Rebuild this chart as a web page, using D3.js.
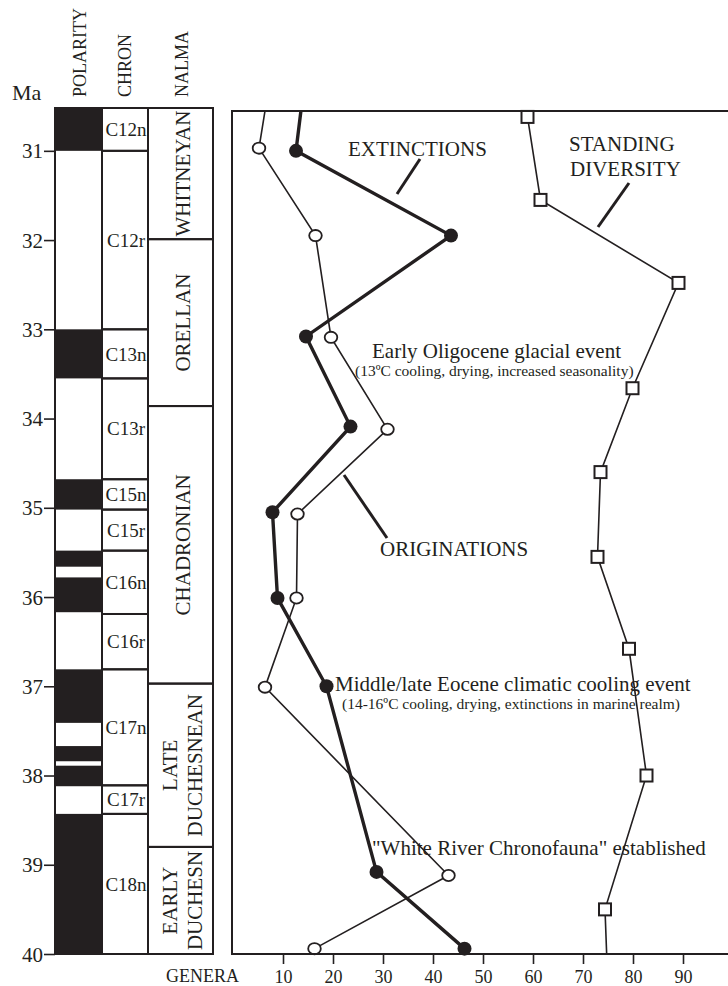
<!DOCTYPE html>
<html>
<head>
<meta charset="utf-8">
<script src="https://cdn.jsdelivr.net/npm/d3@7"></script>
<style>
  html, body { margin: 0; padding: 0; background: #ffffff; }
  svg { display: block; }
  text { font-family: "Liberation Serif", "Times New Roman", serif; fill: #231f20; }
</style>
</head>
<body>
<svg id="chart" width="728" height="986"></svg>
<script>
// ---- Time scale (Ma) ----------------------------------------------------
const maTicks = [31, 32, 33, 34, 35, 36, 37, 38, 39, 40];

// Normal-polarity (black) intervals of the magnetic column, [young, old] in Ma
const polarityNormal = [
  [30.52, 31.0], [33.0, 33.55], [34.68, 35.02], [35.48, 35.66], [35.78, 36.17],
  [36.81, 37.41], [37.67, 37.84], [37.89, 38.12], [38.43, 40.0]
];

// Chrons and their boundaries (Ma)
const chronNames  = ["C12n", "C12r", "C13n", "C13r", "C15n", "C15r", "C16n", "C16r", "C17n", "C17r", "C18n"];
const chronBounds = [30.52, 31.0, 33.0, 33.55, 34.68, 35.02, 35.48, 36.19, 36.81, 38.11, 38.43, 40.0];

// North American Land Mammal Ages and their boundaries (Ma)
const nalmaNames  = [["WHITNEYAN"], ["ORELLAN"], ["CHADRONIAN"], ["LATE", "DUCHESNEAN"], ["EARLY", "DUCHESN"]];
const nalmaBounds = [30.52, 31.99, 33.86, 36.97, 38.8, 40.0];

// ---- Genera counts ---------------------------------------------------------
const generaTicks = [10, 20, 30, 40, 50, 60, 70, 80, 90];

// First/last entries lie just outside the window: the series continue beyond it
const originationsAge   = [30.5, 30.97, 31.95, 33.09, 34.12, 35.07, 36.01, 37.01, 39.12, 39.94];
const originationsValue = [6.55, 5.2, 16.5, 19.6, 30.9, 12.9, 12.7, 6.4, 43.1, 16.3];

const extinctionsAge    = [30.5, 31.0, 31.95, 33.08, 34.09, 35.05, 36.01, 37.0, 39.08, 39.94];
const extinctionsValue  = [13.7, 12.6, 43.6, 14.6, 23.5, 7.9, 8.9, 18.7, 28.7, 46.3];

const diversityAge      = [30.62, 31.55, 32.48, 33.66, 34.60, 35.55, 36.58, 38.0, 39.5, 40.1];
const diversityValue    = [58.9, 61.5, 89.1, 79.9, 73.5, 72.9, 79.2, 82.7, 74.4, 74.8];

// ---- Layout ----------------------------------------------------------------
const INK = "#231f20";
const svg = d3.select("#chart");

const y = d3.scaleLinear().domain([30.52, 40]).range([108, 954]);
const x = d3.scaleLinear().domain([0, 100]).range([233, 733]);

const colPol   = [55, 102];
const colChron = [102, 148];
const colNalma = [148, 213];
const frame = { left: 232, top: 111, right: 745, bottom: y(40) };

const zip = (ages, vals) => ages.map((a, i) => ({ age: a, v: vals[i] }));
const originations = zip(originationsAge, originationsValue);
const extinctions  = zip(extinctionsAge, extinctionsValue);
const diversity    = zip(diversityAge, diversityValue);
const inWindow = d => d.age >= 30.55 && d.age <= 40;

// ---- Column headers ----------------------------------------------------------
svg.append("text").attr("x", 12).attr("y", 100)
  .attr("font-size", 22).text("Ma");

[["POLARITY", 80], ["CHRON", 125], ["NALMA", 182]].forEach(([t, cx]) => {
  svg.append("text")
    .attr("transform", `translate(${cx + 6},97) rotate(-90)`)
    .attr("font-size", 18).attr("text-anchor", "start")
    .text(t);
});

// ---- Polarity column ---------------------------------------------------------
const gPol = svg.append("g");
gPol.selectAll("rect.n").data(polarityNormal).join("rect")
  .attr("x", colPol[0]).attr("width", colPol[1] - colPol[0])
  .attr("y", d => y(d[0])).attr("height", d => y(d[1]) - y(d[0]))
  .attr("fill", INK);
gPol.append("rect")
  .attr("x", colPol[0]).attr("y", y(30.52))
  .attr("width", colPol[1] - colPol[0]).attr("height", y(40) - y(30.52))
  .attr("fill", "none").attr("stroke", INK).attr("stroke-width", 2);

// ---- Chron column ------------------------------------------------------------
const chrons = chronNames.map((n, i) => ({ name: n, top: chronBounds[i], bot: chronBounds[i + 1] }));
const gChron = svg.append("g");
gChron.selectAll("rect").data(chrons).join("rect")
  .attr("x", colChron[0]).attr("width", colChron[1] - colChron[0])
  .attr("y", d => y(d.top)).attr("height", d => y(d.bot) - y(d.top))
  .attr("fill", "none").attr("stroke", INK).attr("stroke-width", 2);
gChron.selectAll("text").data(chrons).join("text")
  .attr("x", (colChron[0] + colChron[1]) / 2 + 1)
  .attr("y", d => (y(d.top) + y(d.bot)) / 2)
  .attr("dy", "0.35em")
  .attr("text-anchor", "middle").attr("font-size", 19)
  .text(d => d.name);

// ---- NALMA column ------------------------------------------------------------
const nalmas = nalmaNames.map((n, i) => ({ lines: n, top: nalmaBounds[i], bot: nalmaBounds[i + 1] }));
const gNalma = svg.append("g");
gNalma.selectAll("rect").data(nalmas).join("rect")
  .attr("x", colNalma[0]).attr("width", colNalma[1] - colNalma[0])
  .attr("y", d => y(d.top)).attr("height", d => y(d.bot) - y(d.top))
  .attr("fill", "none").attr("stroke", INK).attr("stroke-width", 2);
nalmas.forEach(d => {
  const cx = (colNalma[0] + colNalma[1]) / 2 + 2;
  const cy = (y(d.top) + y(d.bot)) / 2;
  const n = d.lines.length;
  const lh = 25;
  d.lines.forEach((line, i) => {
    const lx = cx + (i - (n - 1) / 2) * lh;
    gNalma.append("text")
      .attr("transform", `translate(${lx + 7},${cy}) rotate(-90)`)
      .attr("text-anchor", "middle").attr("font-size", 21)
      .text(line);
  });
});

// ---- Age axis ----------------------------------------------------------------
const ageAxis = svg.append("g")
  .attr("transform", `translate(${colPol[0]},0)`)
  .call(d3.axisLeft(y).tickValues(maTicks).tickSize(11).tickPadding(1).tickFormat(d3.format("d")));
ageAxis.select(".domain").remove();
ageAxis.selectAll(".tick line").attr("stroke", INK).attr("stroke-width", 1.6);
ageAxis.selectAll(".tick text")
  .attr("font-family", "Liberation Serif, serif").attr("font-size", 21)
  .attr("fill", INK).attr("dy", "0.34em");

// ---- Genera plot -------------------------------------------------------------
svg.append("defs").append("clipPath").attr("id", "plot-clip")
  .append("rect")
  .attr("x", frame.left).attr("y", frame.top)
  .attr("width", frame.right - frame.left).attr("height", frame.bottom - frame.top);

const line = d3.line().x(d => x(d.v)).y(d => y(d.age));
const gLines = svg.append("g").attr("clip-path", "url(#plot-clip)");

gLines.append("path").datum(diversity).attr("d", line)
  .attr("fill", "none").attr("stroke", INK).attr("stroke-width", 1.6);
gLines.append("path").datum(originations).attr("d", line)
  .attr("fill", "none").attr("stroke", INK).attr("stroke-width", 1.6);
gLines.append("path").datum(extinctions).attr("d", line)
  .attr("fill", "none").attr("stroke", INK).attr("stroke-width", 3.4);

// markers
const gMarks = svg.append("g");
gMarks.selectAll("rect.div").data(diversity.filter(inWindow)).join("rect")
  .attr("class", "div")
  .attr("x", d => x(d.v) - 6).attr("y", d => y(d.age) - 6)
  .attr("width", 12).attr("height", 12)
  .attr("fill", "#fff").attr("stroke", INK).attr("stroke-width", 2);
gMarks.selectAll("ellipse.orig").data(originations.filter(inWindow)).join("ellipse")
  .attr("class", "orig")
  .attr("cx", d => x(d.v)).attr("cy", d => y(d.age))
  .attr("rx", 6.3).attr("ry", 5.6)
  .attr("fill", "#fff").attr("stroke", INK).attr("stroke-width", 1.8);
gMarks.selectAll("circle.ext").data(extinctions.filter(inWindow)).join("circle")
  .attr("class", "ext")
  .attr("cx", d => x(d.v)).attr("cy", d => y(d.age))
  .attr("r", 7).attr("fill", INK);

// frame
svg.append("path")
  .attr("d", `M${frame.right},${frame.top}H${frame.left}V${frame.bottom}H${frame.right}`)
  .attr("fill", "none").attr("stroke", INK).attr("stroke-width", 2);

// genera axis
const generaAxis = svg.append("g")
  .attr("transform", `translate(0,${frame.bottom})`)
  .call(d3.axisBottom(x).tickValues(generaTicks).tickSize(10).tickPadding(6).tickSizeOuter(0));
generaAxis.select(".domain").remove();
generaAxis.selectAll(".tick line").attr("stroke", INK).attr("stroke-width", 1.6);
generaAxis.selectAll(".tick text")
  .attr("font-family", "Liberation Serif, serif").attr("font-size", 18).attr("fill", INK);
svg.append("text").attr("x", 166).attr("y", 982)
  .attr("font-size", 18).text("GENERA");

// ---- Series labels and event notes ------------------------------------------
const gNotes = svg.append("g");
const note = (t, px, py, size) =>
  gNotes.append("text").attr("x", px).attr("y", py).attr("font-size", size).text(t);
const pointer = (x1, y1, x2, y2) =>
  gNotes.append("line").attr("x1", x1).attr("y1", y1).attr("x2", x2).attr("y2", y2)
    .attr("stroke", INK).attr("stroke-width", 3);

note("EXTINCTIONS", 348, 156, 21);
pointer(420, 159, 397, 194);

note("STANDING", 569, 151, 21);
note("DIVERSITY", 570, 176, 21);
pointer(629, 183, 598, 227);

note("ORIGINATIONS", 380, 556, 21);
pointer(344, 475, 387, 538);

note("Early Oligocene glacial event", 372, 358, 21);
note("(13\u00baC cooling, drying, increased seasonality)", 355, 376, 15.5);

note("Middle/late Eocene climatic cooling event", 335, 691, 21);
note("(14-16\u00baC cooling, drying, extinctions in marine realm)", 342, 709, 15.5);

note("\"White River Chronofauna\" established", 372, 855, 21);
</script>
</body>
</html>
